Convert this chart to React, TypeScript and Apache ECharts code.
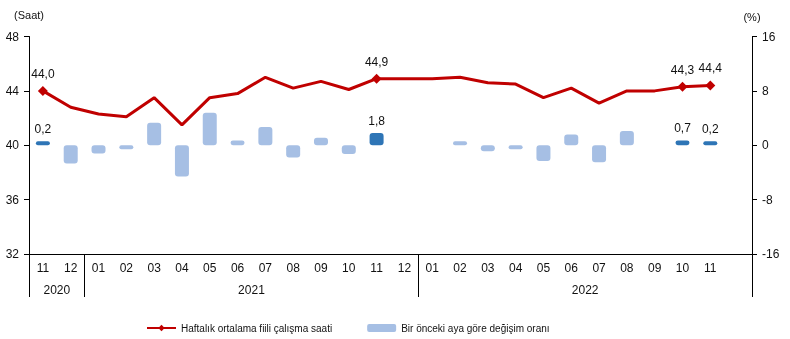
import React, { useEffect, useRef } from 'react';
import * as echarts from 'echarts';

const months = ['11', '12', '01', '02', '03', '04', '05', '06', '07', '08', '09', '10', '11', '12',
  '01', '02', '03', '04', '05', '06', '07', '08', '09', '10', '11', ''];
const years = ['2020', '2021', '2022'];
const yearSpans = [2, 12, 12];

const hours = [44.0, 42.8, 42.3, 42.1, 43.5, 41.5, 43.5, 43.8, 45.0, 44.2, 44.7, 44.1, 44.9, 44.9,
  44.9, 45.0, 44.6, 44.5, 43.5, 44.2, 43.1, 44.0, 44.0, 44.3, 44.4];
const change = [0.2, -2.7, -1.2, -0.5, 3.3, -4.6, 4.8, 0.7, 2.7, -1.8, 1.1, -1.3, 1.8, null,
  null, 0.2, -0.9, -0.3, -2.3, 1.6, -2.5, 2.1, null, 0.7, 0.2];
const highlighted = [0, 12, 23, 24];

const leftTicks = [32, 36, 40, 44, 48];
const rightTicks = [-16, -8, 0, 8, 16];

const lineName = 'Haftalık ortalama fiili çalışma saati';
const barName = 'Bir önceki aya göre değişim oranı';

const FONT = '"Liberation Sans", Arial, sans-serif';
const RED = '#c00000';
const LIGHT = '#a6bfe4';
const DARK = '#2e75b6';
const TXT = '#111111';

const fmt = (v: number) => v.toFixed(1).replace('.', ',');

export default function App() {
  const ref = useRef<HTMLDivElement>(null);
  useEffect(() => {
    const chart = echarts.init(ref.current!, null, { renderer: 'svg' });

    const yearAxis: string[] = new Array(months.length * 2 + 1).fill('');
    const boundaries: number[] = [];
    let start = 0;
    years.forEach((y, i) => {
      boundaries.push(start);
      yearAxis[2 * start + yearSpans[i]] = y;
      start += yearSpans[i];
    });

    const labelStyle = {
      show: true,
      position: 'top',
      distance: 6,
      fontSize: 12,
      color: TXT,
      fontFamily: FONT,
      formatter: (p: any) => fmt(p.value),
    };

    const option: any = {
      animation: false,
      textStyle: { fontFamily: FONT },
      grid: { left: 29, right: 38, top: 36.5, bottom: 85 },
      legend: {
        left: 141,
        top: 318,
        itemWidth: 29,
        itemHeight: 8,
        itemGap: 35,
        textStyle: { fontSize: 10, color: TXT, fontFamily: FONT },
        data: [
          { name: lineName },
          { name: barName, itemStyle: { borderWidth: 0, color: LIGHT } },
        ],
      },
      xAxis: [
        {
          type: 'category',
          data: months,
          boundaryGap: true,
          axisLine: { onZero: false, lineStyle: { color: '#000', width: 1 } },
          axisTick: {
            show: true,
            length: 43,
            lineStyle: { color: '#000', width: 1 },
            interval: (index: number) => boundaries.includes(index),
          },
          axisLabel: { interval: 0, fontSize: 12, color: TXT, margin: 8, fontFamily: FONT },
        },
        {
          type: 'category',
          data: yearAxis,
          boundaryGap: false,
          position: 'bottom',
          offset: 22,
          axisLine: { show: false, onZero: false },
          axisTick: { show: false },
          axisLabel: { interval: 0, fontSize: 12, color: TXT, margin: 8, fontFamily: FONT },
        },
      ],
      yAxis: [
        {
          type: 'value',
          min: leftTicks[0],
          max: leftTicks[leftTicks.length - 1],
          interval: leftTicks[1] - leftTicks[0],
          name: '(Saat)',
          nameLocation: 'end',
          nameGap: 16,
          nameTextStyle: { fontSize: 11, color: TXT, fontFamily: FONT },
          axisLine: { show: true, lineStyle: { color: '#000' } },
          axisTick: { show: true, length: 5, lineStyle: { color: '#000' } },
          axisLabel: { fontSize: 12, color: TXT, margin: 10, fontFamily: FONT },
          splitLine: { show: false },
        },
        {
          type: 'value',
          min: rightTicks[0],
          max: rightTicks[rightTicks.length - 1],
          interval: rightTicks[1] - rightTicks[0],
          name: '(%)',
          nameLocation: 'end',
          nameGap: 14,
          nameTextStyle: { fontSize: 11, color: TXT, fontFamily: FONT },
          position: 'right',
          axisLine: { show: true, lineStyle: { color: '#000' } },
          axisTick: { show: true, length: 5, lineStyle: { color: '#000' } },
          axisLabel: { fontSize: 12, color: TXT, margin: 10, fontFamily: FONT },
          splitLine: { show: false },
        },
      ],
      series: [
        {
          name: barName,
          type: 'bar',
          yAxisIndex: 1,
          barWidth: 14,
          barMinHeight: 4,
          itemStyle: { color: LIGHT, borderRadius: 3 },
          data: change.map((v, i) =>
            highlighted.includes(i)
              ? { value: v, itemStyle: { color: DARK }, label: labelStyle }
              : { value: v }
          ),
          z: 2,
        },
        {
          name: lineName,
          type: 'line',
          yAxisIndex: 0,
          symbol: 'diamond',
          symbolSize: 10,
          showAllSymbol: true,
          lineStyle: { color: RED, width: 3 },
          itemStyle: { color: RED },
          data: hours.map((v, i) =>
            highlighted.includes(i)
              ? { value: v, label: labelStyle }
              : { value: v, symbol: 'none' }
          ),
          z: 3,
        },
      ],
    };
    chart.setOption(option);
    return () => chart.dispose();
  }, []);
  return <div ref={ref} style={{ position: 'fixed', left: 0, top: 0, width: 790, height: 339 }} />;
}
